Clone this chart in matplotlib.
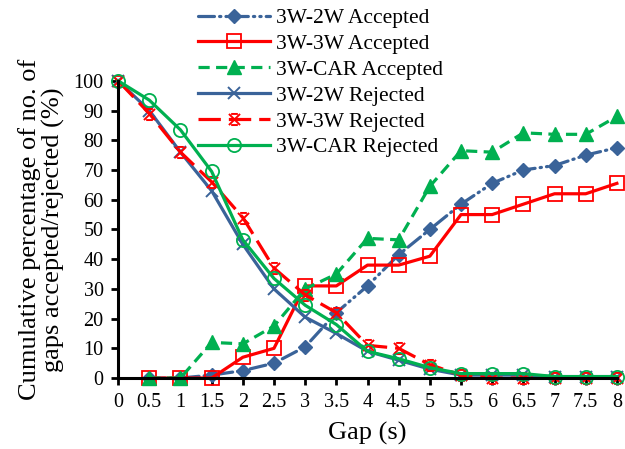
import matplotlib
matplotlib.use("Agg")
import matplotlib.pyplot as plt
from matplotlib.path import Path

# gap values (s)
gaps_acc = [0.5, 1, 1.5, 2, 2.5, 3, 3.5, 4, 4.5, 5, 5.5, 6, 6.5, 7, 7.5, 8]
gaps_rej = [0, 0.5, 1, 1.5, 2, 2.5, 3, 3.5, 4, 4.5, 5, 5.5, 6, 6.5, 7, 7.5, 8]

# cumulative % accepted
acc_2w = [0, 0, 1, 2.5, 5, 10.5, 22, 31, 41.5, 50, 58.5, 65.5, 70, 71.5, 75, 77.5]
acc_3w = [0, 0, 0, 7, 10, 31, 31, 38, 38, 41, 55, 55, 58.5, 62, 62, 65.5]
acc_car = [0, 0, 12, 11.5, 17.5, 30, 35, 47, 46.5, 64.5, 76.5, 76, 82.5, 82, 82, 88]

# cumulative % rejected
rej_2w = [100, 90, 76, 63, 45, 30, 20.5, 15, 9, 6, 3, 1, 1, 1, 0.5, 0.5, 0.5]
rej_3w = [100, 89, 76, 66, 54, 37, 28, 22, 11, 10, 4.5, 1, 0, 0, 0, 0, 0]
rej_car = [100, 93.5, 83.5, 69.5, 46.5, 33.5, 24.5, 18, 9, 6.5, 3.5, 1.5, 1.5, 1.5, 0.5, 0.5, 0.5]

xticks = [0, 0.5, 1, 1.5, 2, 2.5, 3, 3.5, 4, 4.5, 5, 5.5, 6, 6.5, 7, 7.5, 8]
xticklabels = ["0", "0.5", "1", "1.5", "2", "2.5", "3", "3.5", "4", "4.5",
               "5", "5.5", "6", "6.5", "7", "7.5", "8"]

BLUE = "#3a6399"
RED = "#ff0000"
GREEN = "#00b050"

plt.rcParams["font.family"] = ["Liberation Serif", "DejaVu Serif"]

# X with short bars top and bottom (excel-like star)
star = Path(
    [(-1, -1), (1, 1), (-1, 1), (1, -1), (-0.6, 1), (0.6, 1), (-0.6, -1), (0.6, -1)],
    [Path.MOVETO, Path.LINETO, Path.MOVETO, Path.LINETO,
     Path.MOVETO, Path.LINETO, Path.MOVETO, Path.LINETO],
)

fig = plt.figure(figsize=(6.25, 4.49), dpi=100)
ax = fig.add_axes([0.189, 0.158, 0.798, 0.662])

lw = 2.3
ax.plot(gaps_acc, acc_2w, color=BLUE, lw=lw, linestyle=(0, (5, 1.6, 0.4, 1.6, 0.4, 1.6)),
        dash_capstyle="round", marker="D", ms=7.5, mfc=BLUE, mec=BLUE,
        label="3W-2W Accepted", clip_on=False)
ax.plot(gaps_acc, acc_3w, color=RED, lw=lw, linestyle="-",
        marker="s", ms=9.5, mfc="none", mec=RED, mew=1.3,
        label="3W-3W Accepted", clip_on=False)
ax.plot(gaps_acc, acc_car, color=GREEN, lw=lw, linestyle=(0, (3.5, 2)),
        marker="^", ms=9.5, mfc=GREEN, mec=GREEN,
        label="3W-CAR Accepted", clip_on=False)
ax.plot(gaps_rej, rej_2w, color=BLUE, lw=lw, linestyle="-",
        marker="x", ms=8, mec=BLUE, mew=1.4,
        label="3W-2W Rejected", clip_on=False)
ax.plot(gaps_rej, rej_3w, color=RED, lw=lw, linestyle=(0, (7, 2.5)),
        marker=star, ms=8, mec=RED, mew=1.4,
        label="3W-3W Rejected", clip_on=False)
ax.plot(gaps_rej, rej_car, color=GREEN, lw=lw, linestyle="-",
        marker="o", ms=9.5, mfc="none", mec=GREEN, mew=1.3,
        label="3W-CAR Rejected", clip_on=False)

ax.set_xlim(0, 8)
ax.set_ylim(0, 100)
ax.set_xticks(xticks)
ax.set_xticklabels(xticklabels)
ax.set_yticks(range(0, 101, 10))
ax.tick_params(axis="both", labelsize=14.5, width=2, length=5, direction="out")
ax.tick_params(axis="x", pad=6)
ax.tick_params(axis="y", pad=5.5)

for side in ["top", "right"]:
    ax.spines[side].set_visible(False)
for side in ["left", "bottom"]:
    ax.spines[side].set_linewidth(2.2)

ax.set_xlabel("Gap (s)", fontsize=19, labelpad=7)
ax.set_ylabel("Cumulative percentage of no. of\ngaps accepted/rejected (%)",
              fontsize=19, labelpad=6, linespacing=1.05)

ax.legend(loc="upper left", bbox_to_anchor=(198 / 625, 1 - 8 / 449),
          bbox_transform=fig.transFigure, frameon=False, fontsize=15.5,
          handlelength=3.35, handletextpad=0.28, labelspacing=0.27, borderpad=0,
          borderaxespad=0)

fig.savefig("out.png", dpi=100)
